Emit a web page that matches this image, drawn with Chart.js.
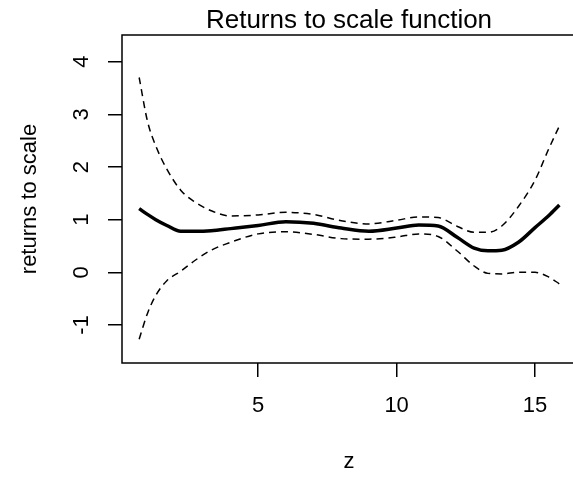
<!DOCTYPE html>
<html>
<head>
<meta charset="utf-8">
<script src="https://cdn.jsdelivr.net/npm/chart.js@4"></script>
<style>
  html, body { margin: 0; padding: 0; background: #fff; overflow: hidden; }
  #wrap { width: 590px; height: 479px; }
</style>
</head>
<body>
<div id="wrap"><canvas id="chart" width="590" height="479"></canvas></div>
<script>
// values
const zValues = [0.7, 1.0, 1.3, 1.7, 2.2, 2.7, 3.3, 4.0, 5.0, 6.0, 7.0, 8.0, 9.0, 10.0, 10.8, 11.5, 12.2, 12.8, 13.3, 13.8, 14.4, 15.0, 15.5, 15.88];
const fitValues = [1.21, 1.10, 1.00, 0.89, 0.78, 0.78, 0.79, 0.83, 0.89, 0.96, 0.93, 0.84, 0.78, 0.84, 0.90, 0.88, 0.66, 0.46, 0.41, 0.42, 0.57, 0.85, 1.08, 1.28];
const upperValues = [3.70, 2.87, 2.40, 1.96, 1.56, 1.34, 1.17, 1.07, 1.09, 1.14, 1.10, 0.98, 0.92, 0.99, 1.05, 1.04, 0.87, 0.76, 0.76, 0.88, 1.25, 1.75, 2.35, 2.78];
const lowerValues = [-1.27, -0.78, -0.44, -0.16, 0.02, 0.22, 0.42, 0.57, 0.73, 0.77, 0.72, 0.64, 0.63, 0.67, 0.73, 0.68, 0.40, 0.12, -0.02, -0.03, 0.0, 0.0, -0.09, -0.22];
const xTickValues = [5, 10, 15];
const yTickValues = [-1, 0, 1, 2, 3, 4];

const FONT = "'Liberation Sans', Arial, sans-serif";
Chart.defaults.font.family = FONT;
Chart.defaults.color = "#000";

function toPoints(ys) {
  return zValues.map((z, i) => ({ x: z, y: ys[i] }));
}

// R style box around the plot region
const boxPlugin = {
  id: "box",
  afterDatasetsDraw(chart) {
    const { ctx, chartArea: a } = chart;
    ctx.save();
    ctx.strokeStyle = "#000";
    ctx.lineWidth = 1.5;
    ctx.strokeRect(a.left, a.top, a.right - a.left, a.bottom - a.top);
    ctx.restore();
  },
};

const bandStyle = {
  borderColor: "#000",
  borderWidth: 1.5,
  borderDash: [7, 5],
  pointRadius: 0,
  fill: false,
  cubicInterpolationMode: "monotone",
};

new Chart(document.getElementById("chart"), {
  type: "line",
  data: {
    datasets: [
      { label: "upper", data: toPoints(upperValues), ...bandStyle },
      { label: "lower", data: toPoints(lowerValues), ...bandStyle },
      {
        label: "fit",
        data: toPoints(fitValues),
        borderColor: "#000",
        borderWidth: 3.5,
        pointRadius: 0,
        fill: false,
        cubicInterpolationMode: "monotone",
      },
    ],
  },
  options: {
    responsive: false,
    animation: false,
    layout: { padding: { left: 0, right: 14, top: 0, bottom: 0 } },
    plugins: {
      legend: { display: false },
      tooltip: { enabled: false },
      title: {
        display: true,
        text: "Returns to scale function",
        fullSize: false,
        color: "#000",
        font: { family: FONT, size: 26, weight: "normal", lineHeight: 1 },
        padding: { top: 7.8, bottom: 1.2 },
      },
    },
    scales: {
      x: {
        type: "linear",
        min: 0.08,
        max: 16.48,
        afterBuildTicks: (s) => { s.ticks = xTickValues.map((v) => ({ value: v })); },
        afterFit: (s) => { s.height = 116; },
        grid: { drawOnChartArea: false, drawTicks: true, tickLength: 14, color: "#000", lineWidth: 1.5 },
        border: { display: false },
        ticks: { font: { size: 22 }, color: "#000", padding: 15.8, maxRotation: 0, autoSkip: false },
        title: { display: true, text: "z", color: "#000", font: { size: 22 }, padding: { top: 0, bottom: 3.8 } },
      },
      y: {
        type: "linear",
        min: -1.722,
        max: 4.507,
        afterBuildTicks: (s) => { s.ticks = yTickValues.map((v) => ({ value: v })); },
        afterFit: (s) => { s.width = 122; },
        grid: { drawOnChartArea: false, drawTicks: true, tickLength: 14, color: "#000", lineWidth: 1.5 },
        border: { display: false },
        ticks: { font: { size: 22 }, color: "#000", padding: 16.5, minRotation: 90, maxRotation: 90, crossAlign: "center", autoSkip: false },
        title: { display: true, text: "returns to scale", color: "#000", font: { size: 22 }, padding: { top: 17, bottom: 0 } },
      },
    },
  },
  plugins: [boxPlugin],
});
</script>
</body>
</html>
